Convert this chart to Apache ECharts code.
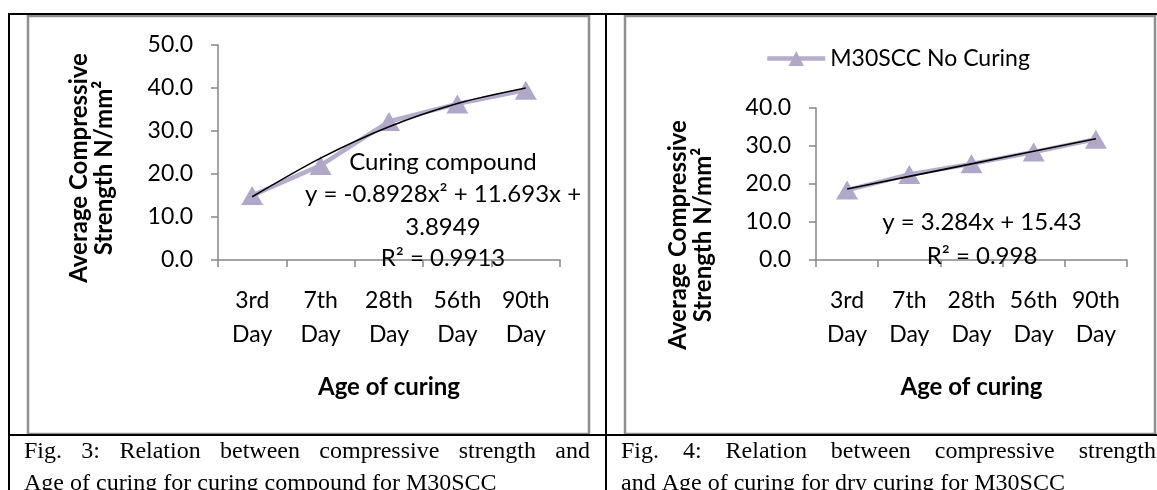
<!DOCTYPE html>
<html>
<head>
<meta charset="utf-8">
<script src="https://cdn.jsdelivr.net/npm/echarts@6/dist/echarts.min.js"></script>
<style>
html, body { margin: 0; padding: 0; background: #fff; }
#chart { width: 1157px; height: 490px; }
</style>
</head>
<body>
<div id="chart"></div>
<script>
// data
var days = ['3rd\nDay', '7th\nDay', '28th\nDay', '56th\nDay', '90th\nDay'];
var curingCompound = [15.0, 22.0, 32.2, 36.3, 39.5];
var curingTrend = [14.7, 23.7, 31.0, 36.4, 40.0];   // -0.8928x² + 11.693x + 3.8949
var noCuring = [18.4, 22.5, 25.3, 28.4, 31.8];
var noCuringTrend = [18.7, 22.0, 25.3, 28.6, 31.9]; // 3.284x + 15.43
var leftTicks = [0, 10, 20, 30, 40, 50];
var rightTicks = [0, 10, 20, 30, 40];

var FONT = 'Lato';
var SERIF = '"Liberation Serif"';
var AXIS_GRAY = '#868686';
var LAV_LINE = '#b6adcd';
var LAV_MARK = '#b1a7c8';

var myChart = echarts.init(document.getElementById('chart'));

function yAxisFor(grid, ticks) {
    return {
        gridIndex: grid,
        type: 'value',
        min: ticks[0],
        max: ticks[ticks.length - 1],
        interval: ticks[1] - ticks[0],
        axisLine: { show: true, lineStyle: { color: AXIS_GRAY, width: 1.5 } },
        axisTick: { show: true, length: 7, lineStyle: { color: AXIS_GRAY, width: 1.5 } },
        splitLine: { show: false },
        axisLabel: {
            margin: 25, color: '#000', fontFamily: FONT, fontSize: 23,
            formatter: function (v) { return v.toFixed(1); }
        }
    };
}

function xAxisFor(grid) {
    return {
        gridIndex: grid,
        type: 'category',
        data: days,
        boundaryGap: true,
        axisLine: { show: true, lineStyle: { color: AXIS_GRAY, width: 1.5 } },
        axisTick: { show: true, length: 7, interval: 0, lineStyle: { color: AXIS_GRAY, width: 1.5 } },
        axisLabel: { interval: 0, margin: 24, color: '#000', fontFamily: FONT, fontSize: 23, lineHeight: 34 },
        name: 'Age of curing',
        nameLocation: 'middle',
        nameGap: 115,
        nameTextStyle: { color: '#000', fontFamily: FONT, fontSize: 24, fontWeight: 'bold' }
    };
}

function dataSeries(name, idx, values) {
    return {
        name: name, type: 'line', xAxisIndex: idx, yAxisIndex: idx,
        data: values,
        symbol: 'triangle', symbolSize: [22, 19],
        lineStyle: { color: LAV_LINE, width: 4.5 },
        itemStyle: { color: LAV_MARK },
        z: 2
    };
}

function trendSeries(idx, values, smooth) {
    return {
        name: 'trend' + idx, type: 'line', xAxisIndex: idx, yAxisIndex: idx,
        data: values, smooth: smooth, showSymbol: false, silent: true,
        lineStyle: { color: '#000', width: 1.6 },
        z: 3
    };
}

function txt(x, y, s, extra, rot) {
    var style = { text: s, fill: '#000', font: '24px ' + FONT, textAlign: 'center', textVerticalAlign: 'middle' };
    for (var k in extra || {}) style[k] = extra[k];
    return { type: 'text', x: x, y: y, rotation: rot || 0, z: 10, style: style };
}

// justified caption line, words spread from x0 to x1
var measureCtx = document.createElement('canvas').getContext('2d');
var captionFont = '24px ' + SERIF;
function justified(line, x0, x1, y) {
    measureCtx.font = captionFont;
    var words = line.split(' ');
    var total = 0;
    words.forEach(function (w) { total += measureCtx.measureText(w).width; });
    var gap = (x1 - x0 - total) / (words.length - 1);
    var out = [], x = x0;
    words.forEach(function (w) {
        out.push(txt(x, y, w, { font: captionFont, textAlign: 'left' }));
        x += measureCtx.measureText(w).width + gap;
    });
    return out;
}

function line(x1, y1, x2, y2, color, w) {
    return { type: 'line', z: 1, shape: { x1: x1, y1: y1, x2: x2, y2: y2 }, style: { stroke: color, lineWidth: w } };
}
function box(x, y, w, h) {
    return { type: 'rect', z: 0, shape: { x: x, y: y, width: w, height: h }, style: { fill: 'none', stroke: '#8f8f8f', lineWidth: 2.5 } };
}

var titleY = 'Average Compressive\nStrength N/mm²';
var titleFont = { font: 'bold 24px ' + FONT, lineHeight: 25 };
var graphics = [
    box(28, 16, 561, 418),
    box(625, 16, 530, 418),
    line(8, 14, 1157, 14, '#000', 2),
    line(9, 13, 9, 490, '#000', 2),
    line(606, 13, 606, 490, '#000', 2),
    line(9, 435, 1157, 435, '#000', 2),
    txt(92, 168, titleY, titleFont, Math.PI / 2),
    txt(691, 235, titleY, titleFont, Math.PI / 2),
    txt(443, 162, 'Curing compound'),
    txt(443, 194, 'y = -0.8928x² + 11.693x +'),
    txt(443, 227, '3.8949'),
    txt(443, 258, 'R² = 0.9913'),
    txt(982, 222, 'y = 3.284x + 15.43'),
    txt(982, 256, 'R² = 0.998'),
    txt(24, 484, 'Age of curing for curing compound for M30SCC', { font: captionFont, textAlign: 'left' }),
    txt(621, 484, 'and Age of curing for dry curing for M30SCC', { font: captionFont, textAlign: 'left' })
];
graphics = graphics
    .concat(justified('Fig. 3: Relation between compressive strength and', 24, 590, 452))
    .concat(justified('Fig. 4: Relation between compressive strength', 621, 1156, 452));

var option = {
    animation: false,
    backgroundColor: '#fff',
    grid: [
        { left: 218, top: 45, width: 342, height: 215 },
        { left: 816, top: 108, width: 311, height: 152 }
    ],
    xAxis: [xAxisFor(0), xAxisFor(1)],
    yAxis: [yAxisFor(0, leftTicks), yAxisFor(1, rightTicks)],
    legend: {
        data: ['M30SCC No Curing'],
        left: 760, top: 42,
        itemWidth: 58, itemHeight: 19, itemGap: 4,
        lineStyle: { width: 4.5, color: LAV_LINE },
        textStyle: { color: '#000', fontFamily: FONT, fontSize: 23 }
    },
    series: [
        dataSeries('Curing compound', 0, curingCompound),
        trendSeries(0, curingTrend, 0.3),
        dataSeries('M30SCC No Curing', 1, noCuring),
        trendSeries(1, noCuringTrend, false)
    ],
    graphic: graphics
};
myChart.setOption(option);
</script>
</body>
</html>
